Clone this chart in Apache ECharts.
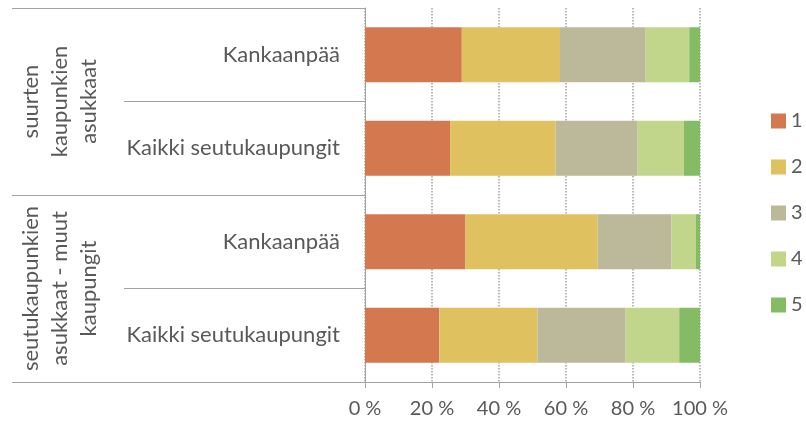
<!DOCTYPE html>
<html>
<head>
    <meta charset="utf-8">
    <title>Kankaanpää</title>
    <script src="https://cdn.jsdelivr.net/npm/echarts@6/dist/echarts.min.js"></script>
    <style>
        html, body { margin: 0; padding: 0; background: #fff; }
        #chart { width: 806px; height: 421px; }
    </style>
</head>
<body>
<div id="chart"></div>
<script type="text/javascript">
    // kategoriat ylhäältä alas
    var groups = ['suurten\nkaupunkien\nasukkaat', 'seutukaupunkien\nasukkaat - muut\nkaupungit'];
    var places = ['Kankaanpää', 'Kaikki seutukaupungit', 'Kankaanpää', 'Kaikki seutukaupungit'];
    var seriesNames = ['1', '2', '3', '4', '5'];
    var colors = ['#D3784F', '#E0C15F', '#BBB99A', '#C1D58B', '#85BB64'];
    // osuudet (%) jokaisessa palkissa
    var s1 = [28.9, 25.4, 30.0, 22.2];
    var s2 = [29.3, 31.5, 39.5, 29.3];
    var s3 = [25.6, 24.5, 22.0, 26.3];
    var s4 = [13.0, 13.8, 7.2, 16.0];
    var s5 = [3.2, 4.8, 1.3, 6.2];
    var xTicks = [0, 20, 40, 60, 80, 100];

    var values = [s1, s2, s3, s4, s5];
    var lineColor = '#A3A3A3';
    var textColor = '#595959';
    var font = 'Lato';

    var myChart = echarts.init(document.getElementById('chart'));

    var series = seriesNames.map(function (name, i) {
        return {
            name: name,
            type: 'bar',
            stack: 'total',
            yAxisIndex: 0,
            barWidth: 55,
            itemStyle: {color: colors[i]},
            data: values[i]
        };
    });

    myChart.setOption({
        animation: false,
        textStyle: {fontFamily: font},
        grid: {left: 365, right: 106, top: 8, bottom: 39},
        legend: {
            orient: 'vertical',
            left: 771,
            top: 111,
            padding: 0,
            itemWidth: 15,
            itemHeight: 15,
            itemGap: 26,
            icon: 'rect',
            data: seriesNames,
            textStyle: {color: textColor, fontSize: 20, fontFamily: font}
        },
        xAxis: {
            type: 'value',
            min: xTicks[0],
            max: xTicks[xTicks.length - 1],
            interval: 20,
            axisLine: {show: true, lineStyle: {color: lineColor}},
            axisTick: {show: true, length: 6, lineStyle: {color: lineColor}},
            splitLine: {show: true, lineStyle: {color: lineColor, type: 'dotted', width: 1.5}},
            axisLabel: {
                formatter: '{value} %',
                color: textColor,
                fontSize: 20,
                margin: 17
            }
        },
        yAxis: [{
            type: 'category',
            inverse: true,
            position: 'left',
            data: places,
            axisLine: {show: true, lineStyle: {color: lineColor}},
            axisTick: {show: true, interval: 0, length: 241, lineStyle: {color: lineColor}},
            axisLabel: {color: textColor, fontSize: 22, margin: 25, interval: 0}
        }, {
            // ryhmätaso: vain jakoviivat, tekstit graphicilla
            type: 'category',
            inverse: true,
            position: 'left',
            offset: 0,
            data: groups,
            axisLine: {show: false},
            axisTick: {show: true, interval: 0, length: 353, lineStyle: {color: lineColor}},
            axisLabel: {show: false}
        }],
        series: series
    });

    // ryhmien pystytekstit
    myChart.setOption({
        graphic: groups.map(function (g) {
            return {
                type: 'text',
                x: 60,
                y: myChart.convertToPixel({yAxisIndex: 1}, g),
                rotation: Math.PI / 2,
                style: {
                    text: g,
                    fill: textColor,
                    font: '22px ' + font,
                    lineHeight: 29,
                    align: 'center',
                    verticalAlign: 'middle'
                }
            };
        })
    });
</script>
</body>
</html>
